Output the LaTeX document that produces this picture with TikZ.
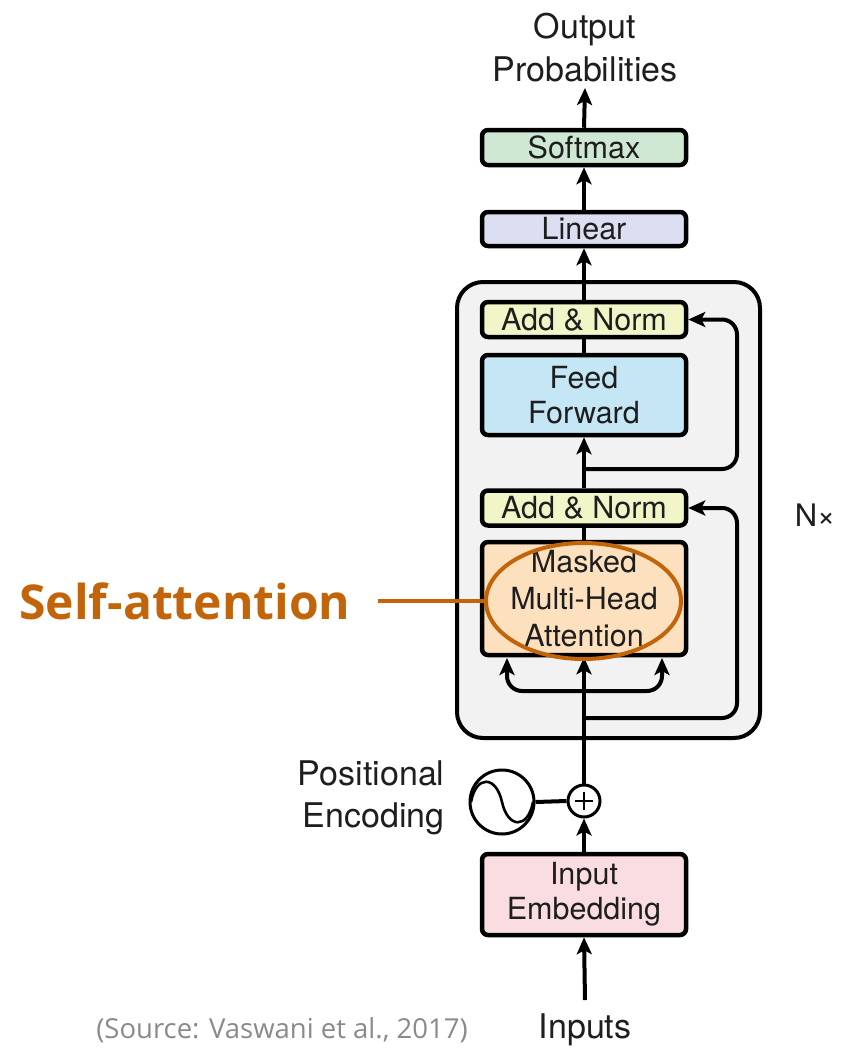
\documentclass[tikz,border=0pt]{standalone}
\usepackage{fontspec}
\setmainfont{TeX Gyre Heros}
\newfontfamily\labelfont{Open Sans}
\usetikzlibrary{arrows.meta,shapes.geometric}

\definecolor{ink}{HTML}{1E1E1E}
\definecolor{softmaxfill}{HTML}{CFE8D4}
\definecolor{linearfill}{HTML}{DCDFF1}
\definecolor{normfill}{HTML}{F2F5C7}
\definecolor{fffill}{HTML}{C4E6F5}
\definecolor{attnfill}{HTML}{FDE0BE}
\definecolor{embfill}{HTML}{FADDE0}
\definecolor{stackfill}{HTML}{F2F2F2}
\definecolor{accent}{HTML}{C2650A}
\definecolor{note}{HTML}{8A8A8A}

\begin{document}
\begin{tikzpicture}[x=1pt,y=-1pt,
  block/.style={draw=black, line width=4.5pt, rounded corners=6pt,
    minimum width=204pt, inner sep=0pt, align=center, text=ink,
    font=\fontsize{30.5}{35}\selectfont},
  wire/.style={line width=4pt, draw=black},
  flow/.style={wire, -{Stealth[length=17pt,width=15pt,inset=4pt]}},
  caption/.style={text=ink, align=center, font=\fontsize{34}{43}\selectfont}]
\useasboundingbox (0,0) rectangle (841,1049);

% encoder/decoder stack background
\draw[line width=4pt, fill=stackfill, rounded corners=26pt] (457,282) rectangle (760,738);

% blocks
\node[block, fill=softmaxfill, minimum height=35pt] (softmax) at (584,147.5) {Softmax};
\node[block, fill=linearfill,  minimum height=34pt] (linear)  at (584,229)   {Linear};
\node[block, fill=normfill,    minimum height=35pt] (norm1)   at (584,319.5) {Add \& Norm};
\node[block, fill=fffill,      minimum height=80pt] (ff)      at (584,395)   {Feed\\Forward};
\node[block, fill=normfill,    minimum height=35pt] (norm2)   at (584,508)   {Add \& Norm};
\node[block, fill=attnfill,    minimum height=113pt,
      font=\fontsize{30.5}{37}\selectfont]         (mha)     at (584,598.5) {Masked\\Multi-Head\\Attention};
\node[block, fill=embfill,     minimum height=81pt] (emb)     at (584,894.5) {Input\\Embedding};

% positional encoding
\node[circle, draw, line width=3pt, minimum size=32pt, inner sep=0pt] (plus) at (584,801) {};
\draw[line width=2.4pt] ([xshift=-9pt]plus.center) -- ([xshift=9pt]plus.center)
                        ([yshift=-9pt]plus.center) -- ([yshift=9pt]plus.center);
\node[circle, draw, line width=3pt, minimum size=64pt, inner sep=0pt] (pe) at (502,802) {};
\draw[line width=2.6pt] ([xshift=-31pt]pe.center)
  .. controls ([xshift=-26pt,yshift=27pt]pe.center) and ([xshift=-6pt,yshift=27pt]pe.center) .. (pe.center)
  .. controls ([xshift=6pt,yshift=-27pt]pe.center) and ([xshift=26pt,yshift=-27pt]pe.center) .. ([xshift=31pt]pe.center);
\draw[wire] (pe.east) -- (plus.west);

% texts
\node[caption] (outp) at (585,48) {Output\\Probabilities};
\node[caption] (inp) at (585,1030) {Inputs};
\node[caption, anchor=east, align=right, font=\fontsize{34}{42}\selectfont] (pelabel) at (448,798) {Positional\\Encoding};
\node[text=ink, font=\fontsize{31}{36}\selectfont] (nx) at (815,515) {N×};
\node[text=note, font=\labelfont\fontsize{27.5}{32}\selectfont] (src) at (282,1030) {(Source: Vaswani et al., 2017)};

% coordinates for connector ends
\coordinate (outtip) at (585,88);
\coordinate (instart) at (585,1000);
\coordinate (res1) at (585,469);
\coordinate (res2) at (585,718);
\coordinate (fork) at (585,691);
\coordinate (kin) at (507,658);
\coordinate (vin) at (662,658);

% main data path
\draw[flow] (instart) -- (emb.south);
\draw[flow] (emb.north) -- (plus.south);
\draw[flow] (plus.north) -- (mha.south);
\draw[wire] (mha.north) -- (norm2.south);
\draw[flow] (norm2.north) -- (ff.south);
\draw[wire] (ff.north) -- (norm1.south);
\draw[flow] (norm1.north) -- (linear.south);
\draw[flow] (linear.north) -- (softmax.south);
\draw[flow] (softmax.north) -- (outtip);

% attention inputs
\draw[flow, rounded corners=15pt] (fork) -| (kin);
\draw[flow, rounded corners=15pt] (fork) -| (vin);

% residual connections
\draw[flow, rounded corners=15pt] (res1) -- (737,469) -- (737,319.5) -- (norm1.east);
\draw[flow, rounded corners=15pt] (res2) -- (737,718) -- (737,508) -- (norm2.east);

% highlight
\node[ellipse, draw=accent, line width=4pt, minimum width=195pt, minimum height=116pt, inner sep=0pt] (hl) at (583.5,601) {};
\node[anchor=west, text=accent, font=\labelfont\bfseries\fontsize{48}{56}\selectfont] (sa) at (16,601) {Self-attention};
\coordinate (saend) at (378,601);
\draw[line width=4pt, draw=accent] (saend) -- (hl.west);
\end{tikzpicture}
\end{document}
